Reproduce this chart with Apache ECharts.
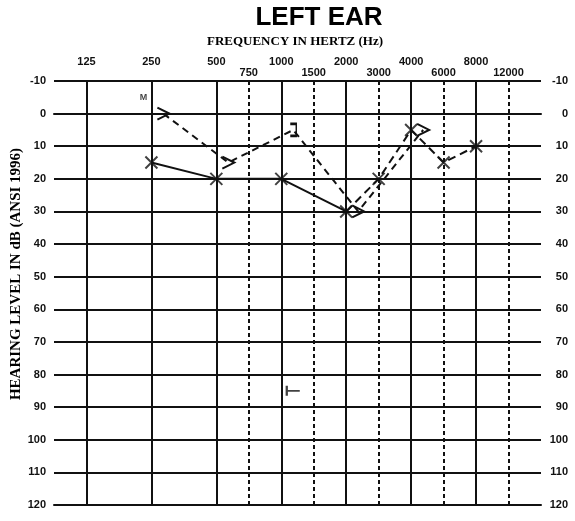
<!DOCTYPE html>
<html>
<head>
<meta charset="utf-8">
<script src="https://cdn.jsdelivr.net/npm/echarts@6/dist/echarts.min.js"></script>
<style>
html,body{margin:0;padding:0;background:#fff;}
#chart{width:575px;height:521px;}
</style>
</head>
<body>
<div id="chart"></div>
<script>
// ---- data ----
const chartTitle = 'LEFT EAR';
const xTitle = 'FREQUENCY IN HERTZ (Hz)';
const yTitle = 'HEARING LEVEL IN dB (ANSI 1996)';
const octaveFreqs = [125, 250, 500, 1000, 2000, 4000, 8000];
const midFreqs = [750, 1500, 3000, 6000, 12000];
const dbMin = -10, dbMax = 120, dbStep = 10;

// air conduction (X)
const airFreqs = [250, 500, 1000, 2000, 3000, 4000, 6000, 8000];
const airDb = [15, 20, 20, 30, 20, 5, 15, 10];
const airDashFrom = 2000; // segment drawn dashed from this frequency on

// bone conduction ('>' unmasked, ']' masked)
const boneFreqs = [250, 500, 1000, 2000, 4000];
const boneDb = [0, 15, 5, 30, 5];
const boneKinds = ['>', '>', ']', '>', '>'];

// other marker
const otherFreqs = [1000];
const otherDb = [85];

// note
const noteFreqs = [250];
const noteDb = [0];
const noteText = ['M'];

// ---- helpers ----
// audiometric position: octaves from 125 Hz, inter-octave frequencies at half-octave
function audPos(f) {
  const k = Math.log2(f / 125);
  const r = Math.round(k);
  return Math.abs(k - r) < 1e-9 ? r : Math.floor(k) + 0.5;
}
const posLabel = {};
octaveFreqs.concat(midFreqs).forEach(f => { posLabel[audPos(f)] = String(f); });

const INK = '#111';
const xMin = -0.5, xMax = 7;

const symbolPaths = {
  '>': 'path://M0,0L10,5L0,10',
  ']': 'path://M0,0L5,0L5,10L0,10',
  'X': 'path://M0,0L10,10M10,0L0,10',
  'T': 'path://M0,0L0,10M0,5L12,5'
};
const symbolSizes = { '>': [12, 12], ']': [6, 12], 'X': [12, 12], 'T': [13, 10] };

const vLines = octaveFreqs.filter(f => audPos(f) > xMin).map(f => ({
  xAxis: audPos(f), lineStyle: { type: 'solid', width: 2, color: INK }
})).concat(midFreqs.map(f => ({
  xAxis: audPos(f), lineStyle: { type: [4, 3], width: 2, color: INK }
})));

const airPts = airFreqs.map((f, i) => [audPos(f), airDb[i]]);
const airSolid = airPts.filter((p, i) => airFreqs[i] <= airDashFrom);
const airDashed = airPts.filter((p, i) => airFreqs[i] >= airDashFrom);

const bonePts = boneFreqs.map((f, i) => ({
  value: [audPos(f), boneDb[i]],
  symbol: symbolPaths[boneKinds[i]],
  symbolSize: symbolSizes[boneKinds[i]]
}));

const labelFont = { fontFamily: 'Liberation Sans', fontWeight: 'bold', fontSize: 11, color: INK };

const chart = echarts.init(document.getElementById('chart'), null, { renderer: 'canvas' });
chart.setOption({
  animation: false,
  backgroundColor: '#fff',
  grid: [
    { left: 54, right: 34, top: 81, bottom: 16 },
    { left: 66, right: 22, top: 81, bottom: 16 }
  ],
  xAxis: [
    {
      type: 'value', gridIndex: 0, position: 'top', min: xMin, max: xMax,
      axisLine: { show: true, lineStyle: { color: INK, width: 2 } },
      axisTick: { show: true, customValues: octaveFreqs.map(audPos), length: 12, inside: false,
        lineStyle: { color: INK, width: 2 } },
      axisLabel: Object.assign({ customValues: octaveFreqs.map(audPos), margin: 14,
        formatter: v => posLabel[v] || '' }, labelFont),
      splitLine: { show: false }
    },
    {
      type: 'value', gridIndex: 0, position: 'top', min: xMin, max: xMax,
      axisLine: { show: false }, axisTick: { show: false },
      axisLabel: Object.assign({ customValues: midFreqs.map(audPos), margin: 3,
        formatter: v => posLabel[v] || '' }, labelFont),
      splitLine: { show: false }
    },
    {
      type: 'value', gridIndex: 0, position: 'bottom', min: xMin, max: xMax,
      axisLine: { show: true, lineStyle: { color: INK, width: 2 } },
      axisTick: { show: false }, axisLabel: { show: false }, splitLine: { show: false }
    },
    {
      type: 'value', gridIndex: 1, min: xMin, max: xMax, show: false
    }
  ],
  yAxis: [
    {
      type: 'value', gridIndex: 0, position: 'left', inverse: true,
      min: dbMin, max: dbMax, interval: dbStep,
      axisLine: { show: true, lineStyle: { color: INK, width: 2 } },
      axisTick: { show: false },
      axisLabel: Object.assign({ margin: 8 }, labelFont),
      splitLine: { show: true, lineStyle: { color: INK, width: 2 } }
    },
    {
      type: 'value', gridIndex: 0, position: 'right', inverse: true,
      min: dbMin, max: dbMax, interval: dbStep,
      axisLine: { show: true, lineStyle: { color: INK, width: 2 } },
      axisTick: { show: false },
      axisLabel: Object.assign({ margin: 27, align: 'right' }, labelFont),
      splitLine: { show: false }
    },
    {
      type: 'value', gridIndex: 1, inverse: true, min: dbMin, max: dbMax, interval: dbStep, show: false
    }
  ],
  graphic: [
    { type: 'text', x: 319, y: 18, style: { text: chartTitle, font: 'bold 26px "Liberation Sans"', fill: '#000', align: 'center', verticalAlign: 'middle' } },
    { type: 'text', x: 295, y: 42, style: { text: xTitle, font: 'bold 13px "Liberation Serif"', fill: '#000', align: 'center', verticalAlign: 'middle' } },
    { type: 'text', x: 16, y: 274, rotation: Math.PI / 2, style: { text: yTitle, font: 'bold 15px "Liberation Serif"', fill: '#000', align: 'center', verticalAlign: 'middle' } }
  ],
  series: [
    {
      type: 'line', xAxisIndex: 0, yAxisIndex: 0, data: airSolid, showSymbol: false, silent: true,
      lineStyle: { color: INK, width: 2, type: 'solid' },
      markLine: { silent: true, symbol: ['none', 'none'], label: { show: false }, data: vLines, animation: false }
    },
    {
      type: 'line', xAxisIndex: 0, yAxisIndex: 0, data: airDashed, showSymbol: false, silent: true,
      lineStyle: { color: INK, width: 2, type: [8, 5] }
    },
    {
      type: 'scatter', xAxisIndex: 0, yAxisIndex: 0, data: airPts, silent: true,
      symbol: symbolPaths.X, symbolSize: symbolSizes.X, z: 5,
      itemStyle: { color: 'rgba(0,0,0,0)', borderColor: INK, borderWidth: 2 }
    },
    {
      type: 'line', xAxisIndex: 3, yAxisIndex: 2, data: bonePts, showSymbol: true, silent: true, z: 5,
      lineStyle: { color: INK, width: 2, type: [7, 5] },
      itemStyle: { color: 'rgba(0,0,0,0)', borderColor: INK, borderWidth: 2 }
    },
    {
      type: 'scatter', xAxisIndex: 3, yAxisIndex: 2, silent: true, z: 5,
      data: otherFreqs.map((f, i) => [audPos(f), otherDb[i]]),
      symbol: symbolPaths.T, symbolSize: symbolSizes.T,
      itemStyle: { color: 'rgba(0,0,0,0)', borderColor: INK, borderWidth: 2 }
    },
    {
      type: 'scatter', xAxisIndex: 0, yAxisIndex: 0, silent: true, z: 6,
      data: noteFreqs.map((f, i) => ({ value: [audPos(f), noteDb[i]], name: noteText[i] })),
      symbolSize: 0,
      label: { show: true, position: 'inside', offset: [-8, -16], formatter: p => p.name,
        fontFamily: 'Liberation Sans', fontWeight: 'bold', fontSize: 9, color: INK }
    }
  ]
});
</script>
</body>
</html>
